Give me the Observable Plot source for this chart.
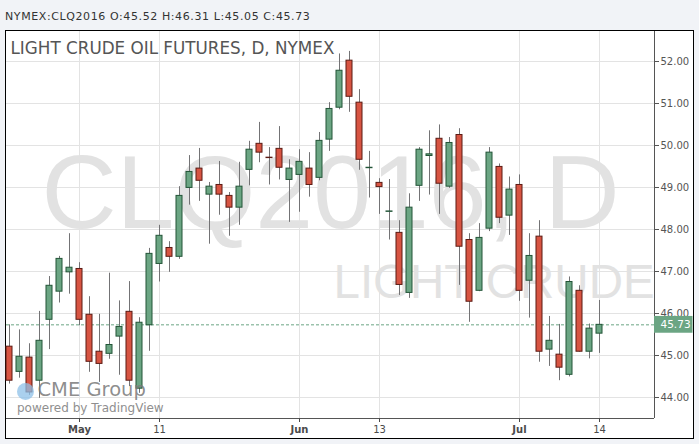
<!DOCTYPE html>
<html><head><meta charset="utf-8">
<script src="https://cdn.jsdelivr.net/npm/d3@7"></script>
<script src="https://cdn.jsdelivr.net/npm/@observablehq/plot@0.6"></script>
<style>
html,body{margin:0;padding:0;background:#f1f3f7;width:699px;height:444px;overflow:hidden;}
#hdr{position:absolute;left:5px;top:10px;font-family:"DejaVu Sans";font-size:11px;line-height:13px;letter-spacing:0.6px;color:#333;white-space:nowrap;}
#panel{position:absolute;left:5px;top:30px;width:687px;height:407px;border:1px solid #000;background:#fff;}
#panel svg{display:block;}
</style></head><body>
<div id="hdr"></div>
<div id="panel"></div>
<script>
// Daily OHLC values, CLQ2016 (index 0 .. 59)
const open  = [45.21,44.61,44.95,44.40,45.85,46.52,46.98,47.06,45.97,45.09,45.04,45.45,46.04,44.21,45.72,47.18,47.56,47.35,48.99,49.45,
               48.83,49.06,48.80,48.52,49.42,50.04,49.71,49.92,49.18,49.30,49.45,49.23,50.14,50.90,52.02,51.02,49.46,49.11,48.42,47.92,
               46.49,49.04,49.75,50.16,49.02,50.25,47.75,46.54,48.02,49.49,48.33,49.06,46.78,47.83,45.14,45.02,44.54,46.54,45.09,45.52];
const high  = [45.73,45.61,45.28,46.05,46.88,47.36,47.90,47.21,46.40,45.98,46.96,46.30,46.76,45.90,47.55,48.10,47.71,49.02,49.76,49.93,
               49.12,49.62,48.88,49.60,50.10,50.55,49.95,50.45,49.66,49.90,49.83,50.31,51.02,52.18,52.24,51.33,49.86,49.21,49.19,48.21,
               48.85,49.95,50.35,50.49,50.19,50.40,47.90,48.14,49.95,49.56,49.25,49.30,47.90,48.21,45.93,45.74,46.87,46.66,45.75,46.31];
const low   = [44.32,44.46,44.05,43.98,45.14,46.25,46.46,45.71,44.60,44.36,44.91,44.53,44.26,44.10,45.10,46.75,46.98,47.29,48.58,48.67,
               47.65,48.34,47.84,48.10,49.04,49.59,49.06,49.18,48.17,48.41,48.77,49.16,49.86,50.85,50.79,49.41,48.75,48.36,47.75,46.43,
               46.36,48.67,48.82,48.36,48.98,46.67,45.79,46.52,47.95,48.14,47.86,46.29,45.89,44.84,44.74,44.40,44.49,45.08,44.92,45.05];
const close = [44.40,44.97,44.12,45.35,46.66,47.30,47.09,45.85,44.85,44.80,45.25,45.68,44.40,45.78,47.42,47.85,47.35,48.80,49.37,49.16,
               49.02,48.83,48.52,49.02,49.90,49.83,49.70,49.47,49.45,49.61,49.06,50.11,50.87,51.78,51.16,49.66,49.47,49.01,48.43,46.68,
               48.52,49.90,49.79,49.09,50.06,47.59,46.28,47.80,49.83,48.28,48.95,46.54,47.37,45.09,45.35,44.71,46.75,45.09,45.64,45.73];

// x-axis tick positions (bar index) and labels
const monthTicks  = [7, 29, 51];
const monthLabels = ["May", "Jun", "Jul"];
const dayTicks    = [15, 37, 59];
const dayLabels   = ["11", "13", "14"];
// y-axis ticks
const yTicks = [44, 45, 46, 47, 48, 49, 50, 51, 52];

const symbol = "NYMEX:CLQ2016";
const chartTitle = "LIGHT CRUDE OIL FUTURES, D, NYMEX";
const wm1 = "CLQ2016, D";
const wm2 = "LIGHT CRUDE";

const green = "#6ba583", greenDark = "#225437";
const red = "#d75442", redDark = "#5b1a13";

const bars = open.map((o, i) => ({i, open: o, high: high[i], low: low[i], close: close[i], up: close[i] >= o}));
const last = bars[bars.length - 1];

document.getElementById("hdr").textContent =
  `${symbol} O:${last.open.toFixed(2)} H:${last.high.toFixed(2)} L:${last.low.toFixed(2)} C:${last.close.toFixed(2)}`;

const xDomain = [-0.3, 64.5];
const yDomain = [43.5, 52 + 30 / 42];
const labelOf = new Map([...monthTicks.map((t, k) => [t, monthLabels[k]]), ...dayTicks.map((t, k) => [t, dayLabels[k]])]);

const F = "DejaVu Sans";
const chart = Plot.plot({
  width: 687, height: 407,
  marginLeft: 0, marginRight: 39, marginTop: 0, marginBottom: 20,
  x: {domain: xDomain, label: null},
  y: {domain: yDomain, label: null},
  style: {background: "white", fontFamily: F, fontSize: "10px", overflow: "visible"},
  marks: [
    Plot.ruleX([...monthTicks, ...dayTicks], {stroke: "#e3e3e3"}),
    Plot.ruleY(yTicks, {stroke: "#e3e3e3"}),
    Plot.text([wm1], {frameAnchor: "top", lineAnchor: "bottom", dy: 196, fontFamily: "Liberation Sans", fontSize: 104, fill: "#e2e2e2"}),
    Plot.text([wm2], {frameAnchor: "top-left", textAnchor: "start", lineAnchor: "bottom", dx: 327, dy: 266, fontFamily: "Liberation Sans", fontSize: 47.5, fill: "#e2e2e2", clip: true}),
    Plot.text([chartTitle], {frameAnchor: "top-left", textAnchor: "start", lineAnchor: "bottom", dx: 4, dy: 22, fontFamily: F, fontSize: 16.8, fill: "#555"}),
    Plot.ruleY([last.close], {stroke: green, strokeDasharray: "3,2"}),
    Plot.ruleX(bars, {x: "i", y1: "low", y2: "high", stroke: "#737375"}),
    Plot.rect(bars, {x1: d => d.i - 0.3, x2: d => d.i + 0.3, y1: "open", y2: "close",
      fill: d => d.up ? green : red, stroke: d => d.up ? greenDark : redDark, strokeWidth: 1}),
    Plot.dot([0], {frameAnchor: "top-left", dx: 19, dy: 360, r: 8.5, fill: "#8ec0e8", fillOpacity: 0.75}),
    Plot.text(["CME Group"], {frameAnchor: "top-left", textAnchor: "start", lineAnchor: "bottom", dx: 31, dy: 364.5, fontFamily: F, fontSize: 19.5, fill: "#7a7a7a", fillOpacity: 0.85}),
    Plot.text(["powered by TradingView"], {frameAnchor: "top-left", textAnchor: "start", lineAnchor: "bottom", dx: 10.5, dy: 380.5, fontFamily: F, fontSize: 12, fill: "#8f8f8f"}),
    Plot.ruleX([xDomain[1]], {stroke: "#555"}),
    Plot.ruleY([yDomain[0]], {stroke: "#555"}),
    Plot.axisY(yTicks, {anchor: "right", label: null, tickSize: 4, tickPadding: 2, tickFormat: d => d.toFixed(2), color: "#555", fontSize: 10}),
    Plot.axisX(monthTicks, {label: null, tickSize: 4, tickPadding: 3, tickFormat: d => labelOf.get(d), color: "#4a4a4a", fontWeight: "bold", fontSize: 10}),
    Plot.axisX(dayTicks, {label: null, tickSize: 4, tickPadding: 3, tickFormat: d => labelOf.get(d), color: "#4a4a4a", fontSize: 10}),
    Plot.rect([last.close], {x1: xDomain[1], x2: xDomain[1] + 3.85, y1: d => d - 0.2, y2: d => d + 0.2, fill: green, clip: false}),
    Plot.text([last.close], {x: xDomain[1], y: d => d, text: d => d.toFixed(2), textAnchor: "start", dx: 6, fill: "white", fontSize: 10.5})
  ]
});
document.getElementById("panel").appendChild(chart);
</script>
</body></html>
